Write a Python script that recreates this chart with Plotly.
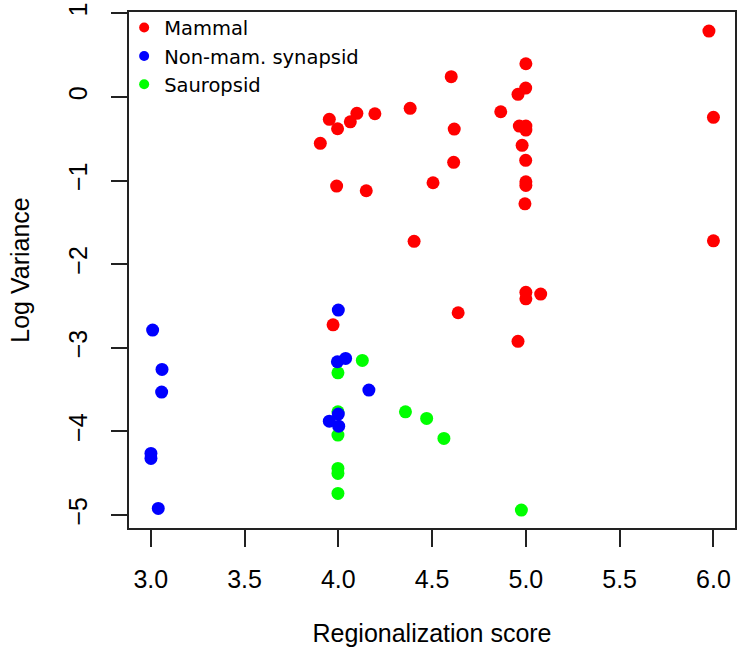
import plotly.graph_objects as go

# Data
mammal_x = [3.952, 3.996, 4.064, 4.099, 4.195, 4.383, 3.904, 3.991, 4.149, 4.404, 4.505,
            5.976, 5.000, 4.602, 4.999, 4.958, 4.866, 6.000, 4.618, 4.965, 5.000, 5.000,
            4.980, 4.615, 4.999, 5.000, 5.000, 4.995, 6.000,
            5.000, 5.000, 5.079, 4.639, 4.958, 3.972]
mammal_y = [-0.268, -0.380, -0.297, -0.196, -0.201, -0.136, -0.555, -1.066, -1.122, -1.727, -1.026,
            0.788, 0.397, 0.242, 0.106, 0.031, -0.177, -0.244, -0.384, -0.348, -0.348, -0.396,
            -0.579, -0.782, -0.758, -1.014, -1.058, -1.278, -1.720,
            -2.337, -2.414, -2.358, -2.581, -2.923, -2.725]

synapsid_x = [3.010, 3.060, 3.058, 3.001, 3.001, 3.040, 4.000, 3.995, 4.039, 4.163, 3.952, 4.000, 4.002]
synapsid_y = [-2.788, -3.258, -3.530, -4.263, -4.323, -4.921, -2.549, -3.167, -3.127, -3.506, -3.877, -3.793, -3.937]

sauropsid_x = [3.998, 4.128, 3.998, 3.998, 3.998, 3.998, 3.998, 4.358, 4.471, 4.563, 4.976]
sauropsid_y = [-3.299, -3.151, -3.766, -4.044, -4.443, -4.502, -4.742, -3.766, -3.844, -4.084, -4.941]

groups = ["Mammal", "Non-mam. synapsid", "Sauropsid"]
colors = ["#FF0000", "#0000FF", "#00FF00"]

x_ticks = [3.0, 3.5, 4.0, 4.5, 5.0, 5.5, 6.0]
x_ticklabels = ["3.0", "3.5", "4.0", "4.5", "5.0", "5.5", "6.0"]
y_ticks = [1, 0, -1, -2, -3, -4, -5]

fig = go.Figure()

# data traces (drawn green, blue, red)
for xs, ys, c in [(sauropsid_x, sauropsid_y, colors[2]),
                  (synapsid_x, synapsid_y, colors[1]),
                  (mammal_x, mammal_y, colors[0])]:
    fig.add_trace(go.Scatter(x=xs, y=ys, mode="markers", showlegend=False,
                             marker=dict(size=13, color=c, line=dict(width=0)),
                             hoverinfo="skip"))

# legend-only traces
for name, c in zip(groups, colors):
    fig.add_trace(go.Scatter(x=[None], y=[None], mode="markers", name=name,
                             marker=dict(size=10, color=c, line=dict(width=0))))

axis_font = dict(family="Liberation Sans, Arial", size=25, color="#000000")

fig.update_layout(
    width=737, height=657,
    margin=dict(l=129, r=0, t=12, b=129),
    paper_bgcolor="white", plot_bgcolor="white",
    showlegend=True,
    legend=dict(x=-0.008, y=1.007, xanchor="left", yanchor="top",
                bgcolor="rgba(0,0,0,0)", borderwidth=0,
                font=dict(family="DejaVu Sans", size=19.5, color="#000000"),
                tracegroupgap=0, itemwidth=30),
    xaxis=dict(range=[2.884, 6.115], tickmode="array", tickvals=x_ticks, ticktext=x_ticklabels,
               showgrid=False, zeroline=False, showline=True, mirror=True,
               linecolor="#222222", linewidth=1.5, ticks="outside", ticklen=17,
               tickwidth=1.5, tickcolor="#222222", tickfont=axis_font,
               ticklabelstandoff=11,
               title=dict(text="Regionalization score", font=axis_font, standoff=33)),
    yaxis=dict(range=[-5.155, 1.016], tickmode="array", tickvals=y_ticks,
               showgrid=False, zeroline=False, showline=True, mirror=True,
               linecolor="#222222", linewidth=1.5, ticks="outside", ticklen=16,
               tickwidth=1.5, tickcolor="#222222", tickfont=axis_font, tickangle=-90,
               ticklabelstandoff=14,
               title=dict(text="Log Variance", font=axis_font, standoff=28)),
)

fig.write_html("out.html")
